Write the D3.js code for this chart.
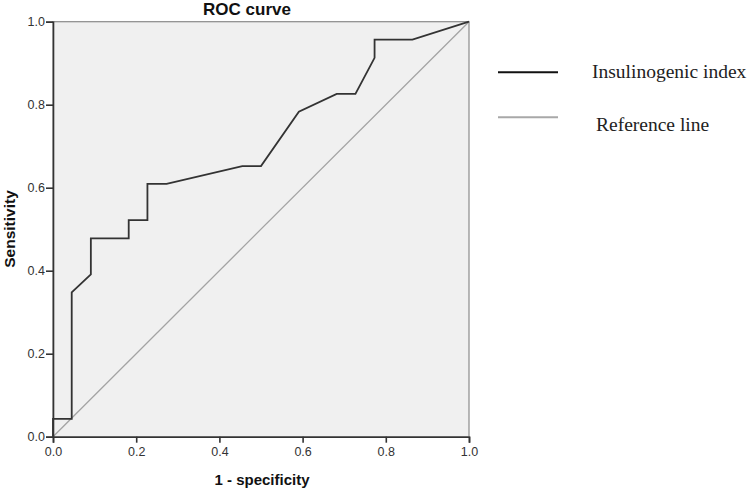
<!DOCTYPE html>
<html><head><meta charset="utf-8">
<script src="https://cdn.jsdelivr.net/npm/d3@7"></script>
<style>body{margin:0;background:#fff}svg{display:block}</style>
</head><body>
<svg id="chart" width="751" height="491"></svg>
<script>
const fpr = [0, 0, 0.045, 0.045, 0.091, 0.091, 0.182, 0.182, 0.227, 0.227, 0.273, 0.455, 0.5, 0.591, 0.682, 0.727, 0.773, 0.773, 0.864, 1];
const tpr = [0, 0.043, 0.043, 0.348, 0.391, 0.478, 0.478, 0.522, 0.522, 0.609, 0.609, 0.652, 0.652, 0.783, 0.826, 0.826, 0.913, 0.957, 0.957, 1];
const refX = [0, 1];
const refY = [0, 1];
const ticks = [0, 0.2, 0.4, 0.6, 0.8, 1.0];
const legendLabels = ["Insulinogenic index", "Reference line"];

const svg = d3.select("#chart");
const L = 53, R = 469, T = 21.7, B = 436.7;
const x = d3.scaleLinear().domain([0, 1]).range([L, R]);
const y = d3.scaleLinear().domain([0, 1]).range([B, T]);

svg.append("rect").attr("x", L).attr("y", T).attr("width", R - L).attr("height", B - T)
  .attr("fill", "#f0f0f0").attr("stroke", "#8a8a8a").attr("stroke-width", 1.2);

const line = d3.line().x(d => x(d[0])).y(d => y(d[1]));
svg.append("path").datum(refX.map((v, i) => [v, refY[i]])).attr("d", line)
  .attr("fill", "none").attr("stroke", "#a3a3a3").attr("stroke-width", 1.3);
svg.append("path").datum(fpr.map((v, i) => [v, tpr[i]])).attr("d", line)
  .attr("fill", "none").attr("stroke", "#333").attr("stroke-width", 1.8).attr("stroke-linejoin", "miter");

const fmt = d3.format(".1f");
const xAxis = svg.append("g").attr("transform", `translate(0,${B})`)
  .call(d3.axisBottom(x).tickValues(ticks).tickFormat(fmt).tickSize(6).tickPadding(4));
const yAxis = svg.append("g").attr("transform", `translate(${L},0)`)
  .call(d3.axisLeft(y).tickValues(ticks).tickFormat(fmt).tickSize(7).tickPadding(1));
[xAxis, yAxis].forEach(g => {
  g.select(".domain").attr("stroke", "#333").attr("stroke-width", 1.6);
  g.selectAll(".tick line").attr("stroke", "#333").attr("stroke-width", 1.6);
  g.selectAll("text").attr("fill", "#333").style("font-family", "Arial, 'Liberation Sans', sans-serif").style("font-size", "12.5px");
});

svg.append("text").attr("x", 247).attr("y", 15).attr("text-anchor", "middle")
  .style("font-family", "Arial, 'Liberation Sans', sans-serif").style("font-weight", "bold").style("font-size", "17px")
  .attr("fill", "#111").text("ROC curve");
svg.append("text").attr("x", 262).attr("y", 485).attr("text-anchor", "middle")
  .style("font-family", "Arial, 'Liberation Sans', sans-serif").style("font-weight", "bold").style("font-size", "15px")
  .attr("fill", "#111").text("1 - specificity");
svg.append("text").attr("transform", `translate(15,229) rotate(-90)`).attr("text-anchor", "middle")
  .style("font-family", "Arial, 'Liberation Sans', sans-serif").style("font-weight", "bold").style("font-size", "15.5px")
  .attr("fill", "#111").text("Sensitivity");

const legColors = ["#111", "#a8a8a8"];
const legY = [72.3, 117.3];
const legTextX = [592, 596];
const legTextY = [78.3, 130.7];
legendLabels.forEach((lab, i) => {
  svg.append("line").attr("x1", 498).attr("x2", 558).attr("y1", legY[i]).attr("y2", legY[i])
    .attr("stroke", legColors[i]).attr("stroke-width", 2);
  svg.append("text").attr("x", legTextX[i]).attr("y", legTextY[i])
    .style("font-family", "'Liberation Serif', 'Times New Roman', serif").style("font-size", "19.5px")
    .attr("fill", "#222").text(lab);
});
</script>
</body></html>
